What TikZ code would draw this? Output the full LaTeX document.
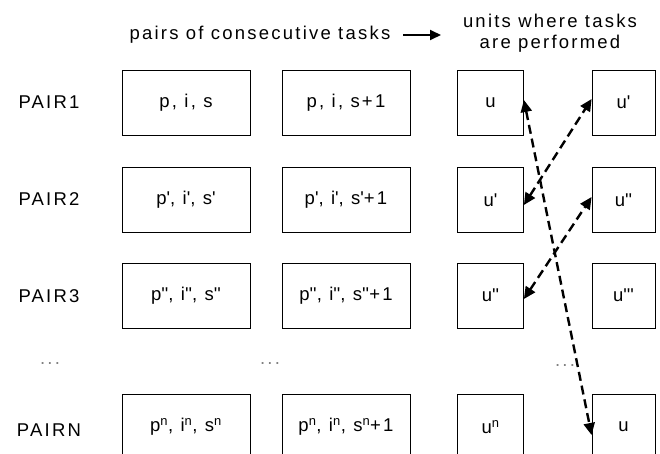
\documentclass[tikz,border=0pt]{standalone}
\usepackage{fontspec}
\setmainfont{Liberation Sans}[LetterSpace=12]
\usetikzlibrary{arrows.meta,calc}
\newcommand{\pq}{\textquotesingle}
\newcommand{\dq}{\textquotesingle\textquotesingle}
\begin{document}
\begin{tikzpicture}[x=1pt,y=-1pt,
  every node/.style={font=\fontsize{18.5}{21}\selectfont, inner sep=0pt},
  task/.style={draw, line width=0.8pt, minimum width=128pt, minimum height=65pt},
  unit/.style={draw, line width=0.8pt, minimum width=66pt, minimum height=65pt},
  link/.style={line width=2.4pt, dash pattern=on 9pt off 5pt,
     {Triangle[length=12pt,width=11pt]}-{Triangle[length=12pt,width=11pt]}},
  dots/.style={text=gray}]
\useasboundingbox (0,0) rectangle (660,454);
\begin{scope}
\clip (0,0) rectangle (660,454);
% header
\node (title) at (260,35) {pairs of consecutive tasks};
\coordinate (ha) at (403,35);
\coordinate (hb) at (441,35);
\draw[line width=1.8pt,-{Triangle[length=11pt,width=10pt]}] (ha) -- (hb);
\node[align=center] (units) at (550,33) {units where tasks\\[0pt]are performed};
% labels
\node (l1) at (49,102) {PAIR1};
\node (l2) at (49,199) {PAIR2};
\node (l3) at (49,296) {PAIR3};
\node[dots] (ld) at (50,364) {...};
\node (ln) at (49,430) {PAIRN};
% column 1
\node[task] (a1) at (186,102.5) {p, i, s};
\node[task] (a2) at (186,200) {p\pq, i\pq, s\pq};
\node[task] (a3) at (186,295.5) {p\dq, i\dq, s\dq};
\node[task] (an) at (186,427) {p\textsuperscript{n}, i\textsuperscript{n}, s\textsuperscript{n}};
% column 2
\node[task] (b1) at (346,102.5) {p, i, s+1};
\node[task] (b2) at (346,200) {p\pq, i\pq, s\pq+1};
\node[task] (b3) at (346,295.5) {p\dq, i\dq, s\dq+1};
\node[dots] (bd) at (270,364) {...};
\node[task] (bn) at (346,427) {p\textsuperscript{n}, i\textsuperscript{n}, s\textsuperscript{n}+1};
% column 3
\node[unit] (c1) at (490.5,102.5) {u};
\node[unit] (c2) at (490.5,200) {u\pq};
\node[unit] (c3) at (490.5,295.5) {u\dq};
\node[unit] (cn) at (490.5,427) {u\textsuperscript{n}};
% column 4
\node[unit,minimum width=63pt] (d1) at (623.5,102.5) {u\pq};
\node[unit,minimum width=63pt] (d2) at (623.5,200) {u\dq};
\node[unit,minimum width=63pt] (d3) at (623.5,295.5) {u\pq\pq\pq};
\node[dots] (dd) at (565,366) {...};
\node[unit,minimum width=63pt] (dn) at (623.5,427) {u};
% links
\draw[link] ([yshift=2.5pt]c1.east) -- ([yshift=-8pt]dn.west);
\draw[link] ([yshift=-5pt]c2.east) -- ([yshift=3.5pt]d1.west);
\draw[link] ([yshift=-3.5pt]c3.east) -- ([yshift=3pt]d2.west);
\end{scope}
\end{tikzpicture}
\end{document}
